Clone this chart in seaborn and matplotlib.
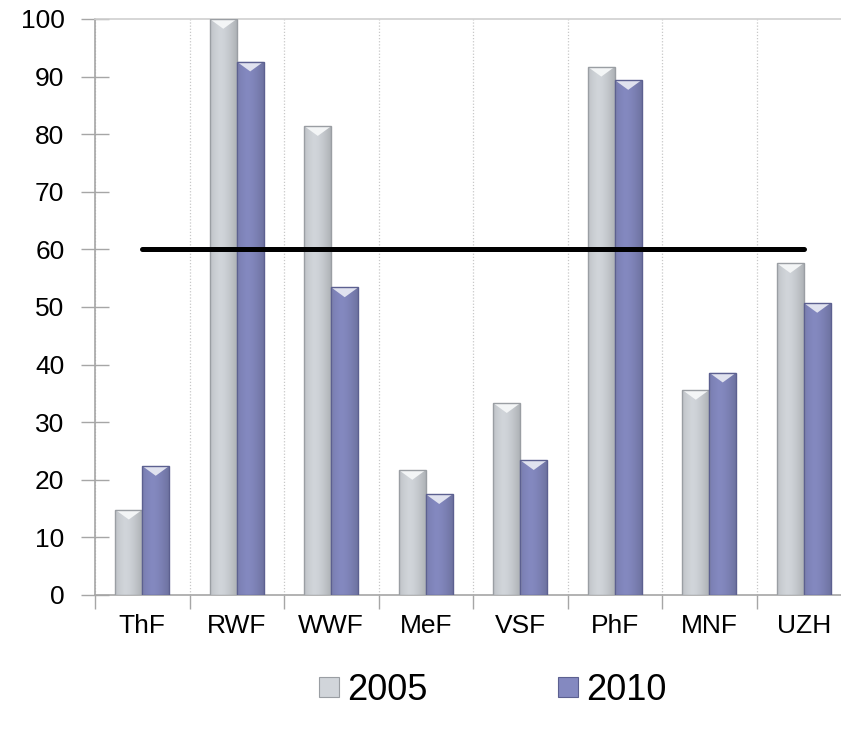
import numpy as np
import pandas as pd
import matplotlib
matplotlib.use("Agg")
import matplotlib.pyplot as plt
from matplotlib.lines import Line2D
from matplotlib.colors import to_rgb
import seaborn as sns

# Faculty values for the two survey years
faculties = ["ThF", "RWF", "WWF", "MeF", "VSF", "PhF", "MNF", "UZH"]
values_2005 = [14.8, 100.0, 81.4, 21.7, 33.3, 91.7, 35.6, 57.6]
values_2010 = [22.4, 92.6, 53.4, 17.5, 23.4, 89.4, 38.6, 50.7]
years = ["2005", "2010"]
target_level = 60
y_ticks = list(range(0, 101, 10))

colors = {"2005": "#D1D5DA", "2010": "#8489C0"}
edges = {"2005": "#9A9EA3", "2010": "#5C6090"}

df = pd.DataFrame({
    "Fakultät": faculties * 2,
    "Jahr": ["2005"] * len(faculties) + ["2010"] * len(faculties),
    "Wert": values_2005 + values_2010,
})

sns.set_theme(style="white")
plt.rcParams["font.family"] = ["Liberation Sans", "DejaVu Sans"]
plt.rcParams["text.color"] = "black"

fig = plt.figure(figsize=(8.41, 7.35), dpi=100)
ax = fig.add_axes([95 / 841, 140 / 735, 756 / 841, 576 / 735])

sns.barplot(data=df, x="Fakultät", y="Wert", hue="Jahr", hue_order=years,
            palette=colors, width=0.57, gap=0, dodge=True, ax=ax,
            legend=False, errorbar=None, saturation=1, zorder=3)

# Bevelled look: shaded face and a light chevron at the top of each bar
n = len(faculties)
for i, patch in enumerate(ax.patches):
    year = years[i // n]
    base = np.array(to_rgb(colors[year]))
    patch.set_edgecolor(edges[year])
    patch.set_linewidth(1.0)
    x0 = patch.get_x()
    w = patch.get_width()
    h = patch.get_height()
    xs = np.linspace(0, 1, 64)
    shade = 1.0 - 0.16 * np.abs(xs - 0.4) ** 1.5 * 2.2
    grad = np.clip(base[None, :] * shade[:, None], 0, 1)[None, :, :]
    im = ax.imshow(grad, extent=[x0, x0 + w, 0, h], aspect="auto",
                   zorder=3.5, interpolation="bilinear")
    im.set_clip_path(patch)
    light = np.clip(base + (1 - base) * 0.75, 0, 1)
    d = 1.7
    ax.fill([x0, x0 + w, x0 + w / 2], [h, h, h - d], color=light,
            zorder=3.6, lw=0)
    patch.set_zorder(3.7)
    patch.set_facecolor("none")

ax.set_xlim(-0.5, n - 0.5)
ax.set_ylim(0, 100)
ax.set_aspect("auto")

# Reference line at the target level
ax.plot([0, n - 1], [target_level, target_level], color="black", lw=3.6,
        solid_capstyle="round", zorder=5)

ax.set_xlabel("")
ax.set_ylabel("")
ax.set_yticks(y_ticks)
ax.set_yticklabels([str(t) for t in y_ticks], fontsize=19, color="black")
ax.set_xticks(range(n))
ax.set_xticklabels(faculties, fontsize=19, color="black")
ax.set_xticks(np.arange(-0.5, n, 1.0), minor=True)

ax.tick_params(axis="y", which="major", direction="inout", length=20,
               width=1, color="#A6A6A6", pad=12, left=True)
ax.tick_params(axis="x", which="major", length=0, pad=14)
ax.tick_params(axis="x", which="minor", direction="out", length=10,
               width=1, color="#A6A6A6", bottom=True)

ax.grid(False)
ax.grid(axis="x", which="minor", color="#C8C8C8", linestyle=(0, (1, 1.5)),
        lw=0.9, zorder=0)

for side in ["left", "bottom", "top"]:
    ax.spines[side].set_visible(True)
    ax.spines[side].set_color("#A6A6A6")
    ax.spines[side].set_linewidth(1.2)
ax.spines["top"].set_color("#CFCFCF")
ax.spines["right"].set_visible(False)

handles = [Line2D([], [], marker="s", linestyle="none", markersize=14,
                  markerfacecolor=colors[y], markeredgecolor=edges[y],
                  markeredgewidth=0.8) for y in years]
leg = fig.legend(handles, years, loc="center",
                 bbox_to_anchor=(489 / 841, 45 / 735),
                 bbox_transform=fig.transFigure,
                 ncol=2, frameon=False, fontsize=26, handletextpad=0.0,
                 columnspacing=3.4, handlelength=1.0, borderaxespad=0,
                 labelcolor="black")

fig.savefig("out.png", dpi=100)
